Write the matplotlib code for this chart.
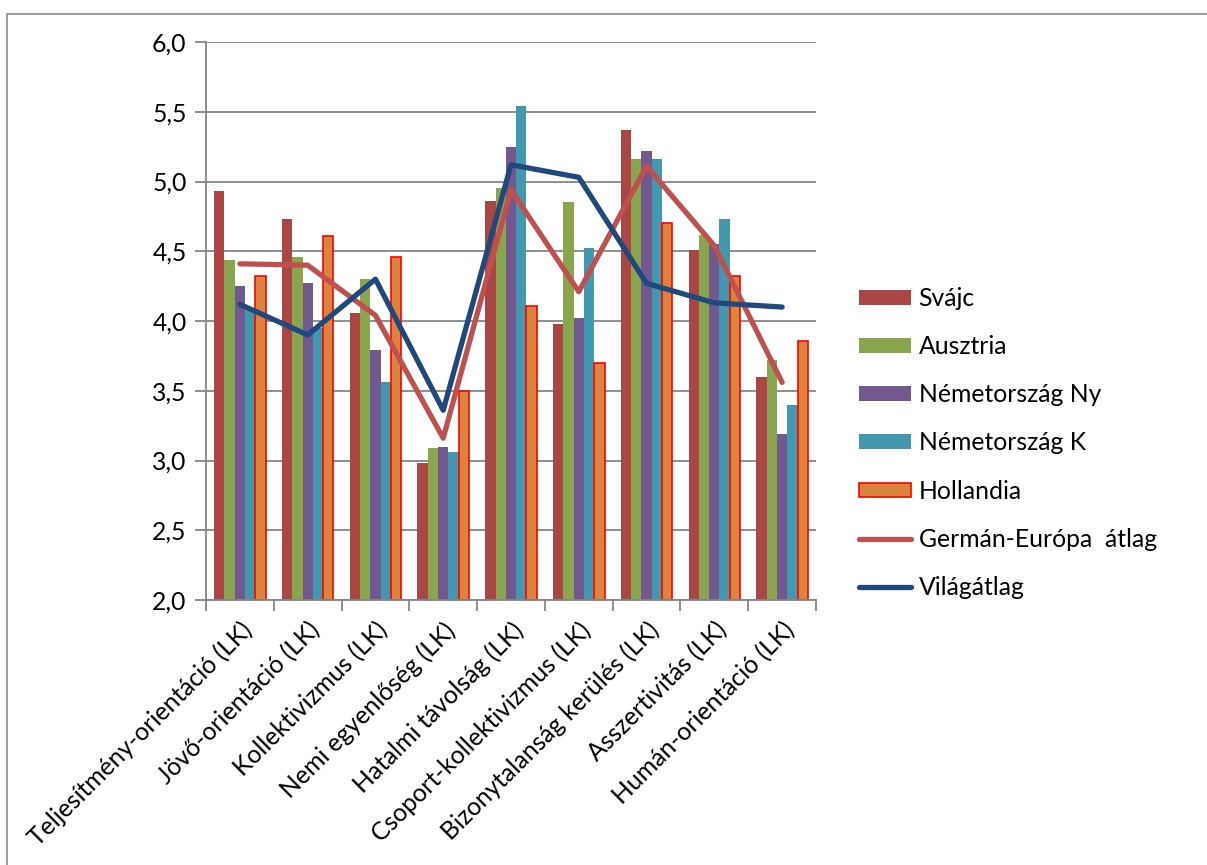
import matplotlib
matplotlib.use("Agg")
import matplotlib.pyplot as plt
import numpy as np
from matplotlib.patches import Rectangle
from matplotlib.ticker import FuncFormatter

# GLOBE társadalmi gyakorlat (LK) értékek
dimenziok = [
    "Teljesítmény-orientáció (LK)",
    "Jövő-orientáció (LK)",
    "Kollektivizmus (LK)",
    "Nemi egyenlőség (LK)",
    "Hatalmi távolság (LK)",
    "Csoport-kollektivizmus (LK)",
    "Bizonytalanság kerülés (LK)",
    "Asszertivitás (LK)",
    "Humán-orientáció (LK)",
]
svajc = [4.93, 4.73, 4.06, 2.98, 4.86, 3.98, 5.37, 4.51, 3.60]
ausztria = [4.44, 4.46, 4.30, 3.09, 4.95, 4.85, 5.16, 4.62, 3.72]
nemet_ny = [4.25, 4.27, 3.79, 3.10, 5.25, 4.02, 5.22, 4.55, 3.19]
nemet_k = [4.09, 3.95, 3.56, 3.06, 5.54, 4.52, 5.16, 4.73, 3.40]
hollandia = [4.32, 4.61, 4.46, 3.50, 4.11, 3.70, 4.70, 4.32, 3.86]
german_atlag = [4.41, 4.40, 4.04, 3.16, 4.94, 4.21, 5.11, 4.54, 3.56]
vilag_atlag = [4.12, 3.90, 4.30, 3.36, 5.12, 5.03, 4.27, 4.13, 4.10]

plt.rcParams["font.family"] = ["Lato", "DejaVu Sans"]
FS = 17.8

fig = plt.figure(figsize=(12.07, 8.65), dpi=100)
# keret a diagram körül
fig.patches.append(Rectangle((7 / 1207, -0.1), 1.2, 1 - 14 / 865 + 0.1,
                             transform=fig.transFigure, fill=False,
                             edgecolor="#8a8a8a", linewidth=1.2))

ax = fig.add_axes([206 / 1207, 1 - 600 / 865, 610 / 1207, 558 / 865])

x = np.arange(len(dimenziok))
w = 0.152
oszlopok = [
    (svajc, "Svájc", "#AA4644", "none"),
    (ausztria, "Ausztria", "#89A54E", "none"),
    (nemet_ny, "Németország Ny", "#71588F", "none"),
    (nemet_k, "Németország K", "#4198AF", "none"),
    (hollandia, "Hollandia", "#DB843D", "#FF0000"),
]
kezelok = []
for i, (vals, nev, szin, el) in enumerate(oszlopok):
    b = ax.bar(x + (i - 2) * w, np.array(vals) - 2.0, w, bottom=2.0, color=szin,
               edgecolor=el, linewidth=1.2 if el != "none" else 0, label=nev, zorder=2)
    kezelok.append(b)

l1, = ax.plot(x, german_atlag, color="#C0504D", linewidth=3.8, solid_capstyle="round",
              solid_joinstyle="round", label="Germán-Európa  átlag", zorder=3)
l2, = ax.plot(x, vilag_atlag, color="#1F497D", linewidth=3.8, solid_capstyle="round",
              solid_joinstyle="round", label="Világátlag", zorder=4)
kezelok += [l1, l2]

ax.set_ylim(2.0, 6.0)
ax.set_xlim(-0.5, len(dimenziok) - 0.5)
ax.set_yticks(np.arange(2.0, 6.01, 0.5))
ax.yaxis.set_major_formatter(FuncFormatter(lambda v, p: f"{v:.1f}".replace(".", ",")))
ax.grid(axis="y", color="#868686", linewidth=1.3, zorder=0)
ax.set_axisbelow(True)

ax.set_xticks(x)
ax.set_xticklabels(dimenziok, rotation=45, ha="right", rotation_mode="anchor", fontsize=FS)
ax.set_xticks(np.arange(-0.5, len(dimenziok)), minor=True)
ax.tick_params(axis="x", which="major", length=0, pad=13)
ax.tick_params(axis="x", which="minor", length=8, width=1.3, color="#868686", direction="out")
ax.tick_params(axis="y", length=8, width=1.3, color="#868686", labelsize=FS, pad=6)

for s in ["top", "right"]:
    ax.spines[s].set_visible(False)
for s in ["left", "bottom"]:
    ax.spines[s].set_color("#868686")
    ax.spines[s].set_linewidth(1.3)

ax.legend(handles=kezelok, loc="center left", bbox_to_anchor=(837 / 1207, 1 - 443 / 865),
          bbox_transform=fig.transFigure, frameon=False, fontsize=FS,
          handlelength=2.1, handleheight=0.55, handletextpad=0.3, labelspacing=1.02)

fig.savefig("out.png", dpi=100)
